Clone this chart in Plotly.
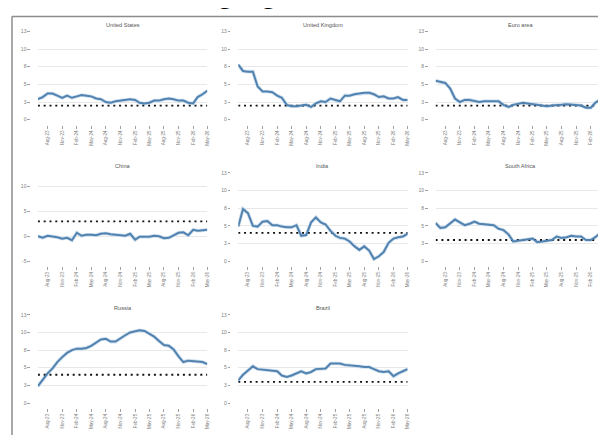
import plotly.graph_objects as go

months = ["2023-06-01", "2023-07-01", "2023-08-01", "2023-09-01", "2023-10-01", "2023-11-01",
          "2023-12-01", "2024-01-01", "2024-02-01", "2024-03-01", "2024-04-01", "2024-05-01",
          "2024-06-01", "2024-07-01", "2024-08-01", "2024-09-01", "2024-10-01", "2024-11-01",
          "2024-12-01", "2025-01-01", "2025-02-01", "2025-03-01", "2025-04-01", "2025-05-01",
          "2025-06-01", "2025-07-01", "2025-08-01", "2025-09-01", "2025-10-01", "2025-11-01",
          "2025-12-01", "2026-01-01", "2026-02-01", "2026-03-01", "2026-04-01", "2026-05-01"]

x_tick_vals = ["2023-08-01", "2023-11-01", "2024-02-01", "2024-05-01", "2024-08-01", "2024-11-01",
               "2025-02-01", "2025-05-01", "2025-08-01", "2025-11-01", "2026-02-01", "2026-05-01"]
x_tick_text = ["Aug-23", "Nov-23", "Feb-24", "May-24", "Aug-24", "Nov-24",
               "Feb-25", "May-25", "Aug-25", "Nov-25", "Feb-26", "May-26"]

countries = ["United States", "United Kingdom", "Euro area", "China", "India",
             "South Africa", "Russia", "Brazil"]
targets = [2, 2, 2, 3, 4, 3, 4, 3]

united_states = [2.9, 3.2, 3.7, 3.7, 3.4, 3.1, 3.4, 3.1, 3.3, 3.5, 3.4, 3.3,
                 3.0, 2.9, 2.5, 2.4, 2.6, 2.7, 2.8, 2.9, 2.8, 2.4, 2.3, 2.4,
                 2.7, 2.7, 2.9, 3.0, 2.9, 2.7, 2.7, 2.4, 2.3, 3.2, 3.6, 4.1]
united_kingdom = [7.8, 6.9, 6.8, 6.8, 4.7, 4.0, 4.0, 3.9, 3.4, 3.1, 2.1, 1.9,
                  1.9, 2.0, 2.1, 1.8, 2.3, 2.6, 2.5, 3.0, 2.8, 2.6, 3.4, 3.4,
                  3.6, 3.7, 3.8, 3.8, 3.6, 3.2, 3.3, 3.0, 3.0, 3.2, 2.8, 2.8]
euro_area = [5.5, 5.4, 5.2, 4.4, 3.0, 2.5, 2.8, 2.8, 2.7, 2.5, 2.6, 2.6,
             2.6, 2.6, 2.1, 1.8, 2.1, 2.3, 2.4, 2.3, 2.2, 2.2, 2.0, 1.9,
             2.0, 2.0, 2.1, 2.2, 2.1, 2.1, 2.0, 1.7, 1.7, 2.4, 2.9, 3.3]
china = [0.0, -0.3, 0.1, 0.0, -0.2, -0.5, -0.3, -0.8, 0.7, 0.1, 0.3, 0.3,
         0.2, 0.5, 0.6, 0.4, 0.3, 0.2, 0.1, 0.5, -0.7, -0.1, -0.1, -0.1,
         0.1, 0.0, -0.4, -0.3, 0.2, 0.7, 0.8, 0.2, 1.3, 1.1, 1.2, 1.3]
india = [4.9, 7.4, 6.8, 5.0, 4.9, 5.6, 5.7, 5.1, 5.1, 4.9, 4.8, 4.8,
         5.1, 3.6, 3.7, 5.5, 6.2, 5.5, 5.2, 4.3, 3.6, 3.3, 3.2, 2.8,
         2.1, 1.6, 2.1, 1.5, 0.3, 0.7, 1.3, 2.6, 3.2, 3.4, 3.5, 3.9]
south_africa = [5.4, 4.7, 4.8, 5.4, 5.9, 5.5, 5.1, 5.3, 5.6, 5.3, 5.2, 5.2,
                5.1, 4.6, 4.4, 3.8, 2.8, 2.9, 3.0, 3.2, 3.2, 2.7, 2.8, 2.8,
                3.0, 3.5, 3.3, 3.4, 3.6, 3.5, 3.5, 3.0, 3.0, 3.4, 4.0, 4.5]
russia = [2.4, 3.3, 4.2, 4.9, 5.8, 6.5, 7.1, 7.5, 7.7, 7.7, 7.8, 8.1,
          8.5, 9.0, 9.1, 8.7, 8.7, 9.2, 9.6, 10.0, 10.2, 10.3, 10.2, 9.8,
          9.4, 8.8, 8.2, 8.1, 7.6, 6.6, 5.8, 6.0, 5.9, 5.9, 5.8, 5.5]
brazil = [3.2, 4.0, 4.6, 5.2, 4.8, 4.7, 4.6, 4.5, 4.5, 3.9, 3.7, 3.9,
          4.2, 4.5, 4.2, 4.4, 4.8, 4.9, 4.9, 5.6, 5.6, 5.6, 5.4, 5.3,
          5.3, 5.2, 5.1, 5.1, 4.8, 4.5, 4.4, 4.5, 3.8, 4.2, 4.5, 4.8]

series = [united_states, united_kingdom, euro_area, china, india, south_africa, russia, brazil]

y_tick_vals = [0, 2.5, 5, 7.5, 10, 12.5]
y_tick_text = ["0", "3", "5", "8", "10", "13"]
china_tick_vals = [-5, 0, 5, 10]
china_tick_text = ["-5", "0", "5", "10"]

W, H = 606, 435
col_x0 = [30, 231, 429]
plot_w = 170
row_y0 = [20.7, 164.2, 308]
plot_h = 89.5

LINE = "#5282b0"
HALO = "#cfe0ee"

fig = go.Figure()
layout = {}
annotations = []

for i, (name, vals, tgt) in enumerate(zip(countries, series, targets)):
    r, c = divmod(i, 3)
    n = i + 1
    xa = "x" if n == 1 else f"x{n}"
    ya = "y" if n == 1 else f"y{n}"
    x0 = col_x0[c]
    x1 = x0 + plot_w
    yt = row_y0[r]
    yb = yt + plot_h

    fig.add_trace(go.Scatter(x=months, y=vals, mode="lines", xaxis=xa, yaxis=ya,
                             line=dict(color=HALO, width=3.6), hoverinfo="skip",
                             showlegend=False))
    fig.add_trace(go.Scatter(x=months, y=[tgt] * len(months), mode="lines", xaxis=xa, yaxis=ya,
                             line=dict(color="#111111", width=1.8, dash="2px,3.8px"),
                             showlegend=False, name="Target"))
    fig.add_trace(go.Scatter(x=months, y=vals, mode="lines", xaxis=xa, yaxis=ya,
                             line=dict(color=LINE, width=2), showlegend=False, name=name))

    if name == "China":
        yr, tv, tt = [-5, 12.7], china_tick_vals, china_tick_text
    else:
        yr, tv, tt = [0, 12.5], y_tick_vals, y_tick_text

    layout["xaxis" if n == 1 else f"xaxis{n}"] = dict(
        domain=[x0 / W, x1 / W], anchor="free", position=1 - (yb + 5) / H,
        type="date", range=[months[0], months[-1]],
        tickmode="array", tickvals=x_tick_vals, ticktext=x_tick_text, tickangle=-90,
        ticks="outside", ticklen=3, tickwidth=1, tickcolor="#a0a0a0",
        tickfont=dict(size=4.6, color="#808080", family="Arial"),
        showgrid=False, zeroline=False, showline=False)
    layout["yaxis" if n == 1 else f"yaxis{n}"] = dict(
        domain=[1 - yb / H, 1 - yt / H], anchor="free", position=(x0 - 8) / W,
        range=yr, tickmode="array", tickvals=tv, ticktext=tt,
        ticks="outside", ticklen=2.5, tickwidth=1, tickcolor="#a0a0a0",
        tickfont=dict(size=5, color="#808080", family="Arial"),
        showgrid=True, gridcolor="#e8e8e8", gridwidth=1, zeroline=False, showline=False)

    annotations.append(dict(text=name, xref="paper", yref="paper",
                            x=(x0 + x1) / 2 / W, y=1 - (yt - 7) / H,
                            xanchor="center", yanchor="middle", showarrow=False,
                            font=dict(size=5.6, color="#555555", family="Arial")))

annotations.append(dict(text="<b>Emerging</b>", xref="paper", yref="paper",
                        x=134 / W, y=1, xanchor="left", yanchor="bottom",
                        showarrow=False, font=dict(size=29, color="#000000", family="Arial")))

shapes = [
    dict(type="line", xref="paper", yref="paper", x0=4 / W, x1=1, y0=1 - 5.5 / H, y1=1 - 5.5 / H,
         line=dict(color="#8c8c8c", width=1.5)),
    dict(type="line", xref="paper", yref="paper", x0=4 / W, x1=4 / W, y0=0, y1=1 - 5.5 / H,
         line=dict(color="#8c8c8c", width=1.5)),
]

fig.update_layout(width=W, height=H, autosize=False,
                  margin=dict(l=0, r=0, t=0, b=0),
                  paper_bgcolor="white", plot_bgcolor="white",
                  annotations=annotations, shapes=shapes, **layout)

fig.write_html("out.html", config={"displayModeBar": False})
